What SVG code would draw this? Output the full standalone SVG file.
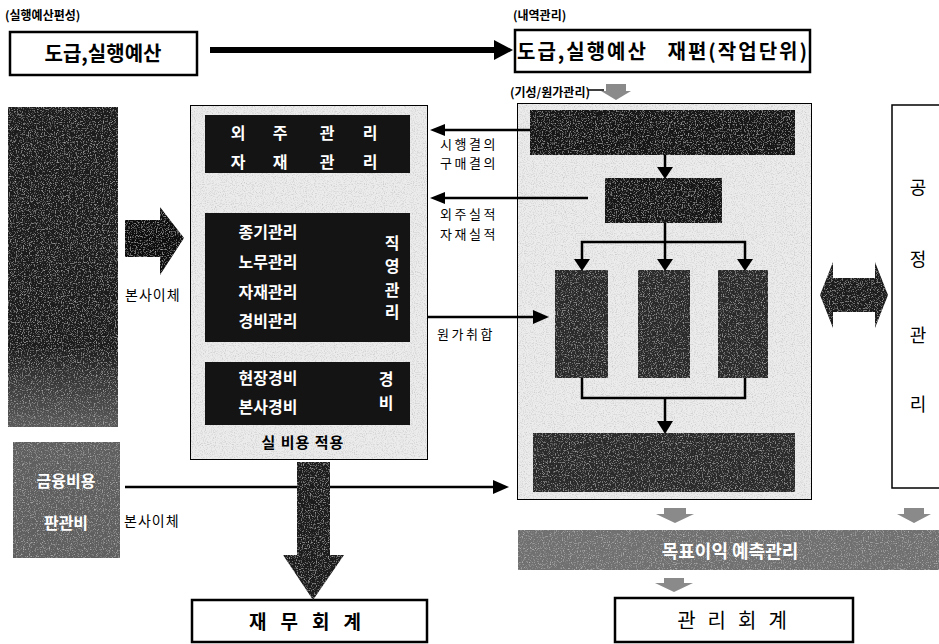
<svg xmlns="http://www.w3.org/2000/svg" width="939" height="644" viewBox="0 0 939 644">
<defs>
<style>
text{font-family:"Noto Sans CJK KR","Noto Sans",sans-serif;}
.lbl{font-size:12px;font-weight:bold;fill:#000;}
.box{fill:#fff;stroke:#000;stroke-width:2.5;}
.panel{fill:#ececec;stroke:#000;stroke-width:2;}
.dark{fill:#141414;}
.mid{fill:#2a2a2a;}
.wt{fill:#fff;font-weight:bold;font-size:16px;}
.small{font-size:13px;fill:#000;letter-spacing:2.5px;}
.line{stroke:#000;stroke-width:2.5;fill:none;}
.gray{fill:#8a8a8a;}
</style>
<filter id="grain" x="0" y="0" width="100%" height="100%">
<feTurbulence type="fractalNoise" baseFrequency="0.85" numOctaves="2" seed="4" result="n"/>
<feColorMatrix in="n" type="matrix" values="0 0 0 0 1  0 0 0 0 1  0 0 0 0 1  0 0 0 1.1 -0.58" result="w"/>
<feComposite in="w" in2="SourceGraphic" operator="in" result="ws"/>
<feMerge><feMergeNode in="SourceGraphic"/><feMergeNode in="ws"/></feMerge>
</filter>
<filter id="dgrain" x="0" y="0" width="100%" height="100%">
<feTurbulence type="fractalNoise" baseFrequency="0.9" numOctaves="2" seed="7" result="n"/>
<feColorMatrix in="n" type="matrix" values="0 0 0 0 0  0 0 0 0 0  0 0 0 0 0  0 0 0 0.7 -0.32" result="w"/>
<feComposite in="w" in2="SourceGraphic" operator="in" result="ws"/>
<feMerge><feMergeNode in="SourceGraphic"/><feMergeNode in="ws"/></feMerge>
</filter>
<linearGradient id="leftg" x1="0" y1="0" x2="0" y2="1">
<stop offset="0" stop-color="#1a1a1a"/>
<stop offset="0.75" stop-color="#1e1e1e"/>
<stop offset="1" stop-color="#5a5a5a"/>
</linearGradient>
</defs>
<rect width="939" height="644" fill="#fff"/>

<g id="top-left">
<text class="lbl" x="5" y="20">(실행예산편성)</text>
<rect class="box" x="10" y="32" width="187" height="43"/>
<text x="103" y="61" text-anchor="middle" font-size="20" font-weight="bold">도급,실행예산</text>
</g>

<g id="top-right">
<text class="lbl" x="513" y="20">(내역관리)</text>
<rect class="box" x="515" y="30" width="295" height="42"/>
<text x="517" y="59" font-size="20" font-weight="bold" xml:space="preserve" textLength="290" lengthAdjust="spacing">도급,실행예산   재편(작업단위)</text>
<text class="lbl" x="510" y="97" font-weight="normal">(기성/원가관리)</text>
</g>

<g id="left-block">
<rect x="8" y="107" width="110" height="320" fill="url(#leftg)" filter="url(#grain)"/>
</g>

<g id="fin-block">
<rect x="13" y="442" width="107" height="116" fill="#5e5e5e" filter="url(#grain)"/>
<text class="wt" x="66" y="487" text-anchor="middle">금융비용</text>
<text class="wt" x="66" y="529" text-anchor="middle">판관비</text>
</g>

<g id="mid-panel">
<rect class="panel" x="190" y="105" width="238" height="355" filter="url(#dgrain)"/>
<rect class="dark" x="205" y="115" width="205" height="58"/>
<g class="wt" text-anchor="middle">
<text x="238" y="139">외</text><text x="280" y="139">주</text><text x="327" y="139">관</text><text x="370" y="139">리</text>
<text x="238" y="168">자</text><text x="280" y="168">재</text><text x="327" y="168">관</text><text x="370" y="168">리</text>
</g>
<rect class="dark" x="205" y="213" width="205" height="129"/>
<g class="wt" text-anchor="middle">
<text x="268" y="238">종기관리</text>
<text x="268" y="268">노무관리</text>
<text x="268" y="298">자재관리</text>
<text x="268" y="327">경비관리</text>
<text x="392" y="249">직</text>
<text x="392" y="272">영</text>
<text x="392" y="296">관</text>
<text x="392" y="318">리</text>
</g>
<rect class="dark" x="205" y="362" width="205" height="63"/>
<g class="wt" text-anchor="middle">
<text x="268" y="384">현장경비</text>
<text x="268" y="413">본사경비</text>
<text x="386" y="385">경</text>
<text x="386" y="409">비</text>
</g>
<text x="303" y="448" text-anchor="middle" font-size="15" font-weight="bold" letter-spacing="1">실 비용 적용</text>
</g>

<g id="right-panel">
<rect class="panel" x="517" y="103" width="295" height="397" filter="url(#dgrain)"/>
<rect class="dark" x="530" y="110" width="265" height="45" filter="url(#grain)"/>
<rect class="dark" x="605" y="178" width="117" height="45" filter="url(#grain)"/>
<rect class="mid" x="555" y="270" width="53" height="108" filter="url(#grain)"/>
<rect class="mid" x="638" y="270" width="52" height="108" filter="url(#grain)"/>
<rect class="mid" x="718" y="270" width="50" height="108" filter="url(#grain)"/>
<rect class="mid" x="533" y="433" width="262" height="59" filter="url(#grain)"/>
</g>

<g id="process-box">
<rect x="892" y="105" width="60" height="383" fill="#fff" stroke="#000" stroke-width="1.5"/>
<g font-size="18" text-anchor="middle">
<text x="918" y="194">공</text>
<text x="918" y="266">정</text>
<text x="918" y="342">관</text>
<text x="918" y="411">리</text>
</g>
</g>

<g id="band">
<rect x="518" y="530" width="425" height="40" fill="#707070" filter="url(#grain)"/>
<text x="730" y="558" text-anchor="middle" font-size="18" font-weight="bold" fill="#fff">목표이익 예측관리</text>
</g>

<g id="fin-acct">
<rect class="box" x="192" y="600" width="235" height="42"/>
<text x="312" y="629" text-anchor="middle" font-size="19" font-weight="bold" letter-spacing="14">재무회계</text>
</g>

<g id="mgmt-acct">
<rect class="box" x="615" y="598" width="238" height="44" stroke-width="2"/>
<text x="738" y="628" text-anchor="middle" font-size="20" letter-spacing="12">관리회계</text>
</g>

<g id="connectors">
<line x1="210" y1="50" x2="497" y2="50" stroke="#000" stroke-width="6"/>
<polygon points="494,40 513,50 494,60" fill="#000"/>
<line x1="588" y1="90" x2="604" y2="90" stroke="#000" stroke-width="1.5"/>
<polygon class="gray" points="606,84 626,84 626,91 631,91 616,100 601,91 606,91"/>

<line class="line" x1="530" y1="130" x2="440" y2="130"/>
<polygon points="445,124 430,130 445,136" fill="#000"/>
<line class="line" x1="588" y1="198" x2="440" y2="198"/>
<polygon points="445,192 430,198 445,204" fill="#000"/>
<text class="small" x="440" y="149">시행결의</text>
<text class="small" x="440" y="168">구매결의</text>
<text class="small" x="440" y="219">외주실적</text>
<text class="small" x="440" y="239">자재실적</text>

<line class="line" x1="428" y1="317" x2="535" y2="317"/>
<polygon points="533,310 549,317 533,324" fill="#000"/>
<text class="small" x="437" y="339">원가취합</text>

<line class="line" x1="665" y1="155" x2="665" y2="170"/>
<polygon points="657,167 673,167 665,179" fill="#000"/>
<line class="line" x1="665" y1="223" x2="665" y2="242"/>
<polyline class="line" points="582,262 582,242 745,242 745,262"/>
<line class="line" x1="665" y1="242" x2="665" y2="262"/>
<polygon points="574,259 590,259 582,271" fill="#000"/>
<polygon points="657,259 673,259 665,271" fill="#000"/>
<polygon points="737,259 753,259 745,271" fill="#000"/>
<polyline class="line" points="582,378 582,398 745,398 745,378"/>
<line class="line" x1="665" y1="398" x2="665" y2="424"/>
<polygon points="657,421 673,421 665,434" fill="#000"/>

<polygon points="125,220 160,220 160,207 184,238 160,275 160,257 125,257" fill="#111" filter="url(#grain)"/>
<text class="small" x="125" y="300" style="letter-spacing:1px;font-size:14px">본사이체</text>

<line class="line" x1="125" y1="487" x2="496" y2="487"/>
<polygon points="493,480 509,487 493,494" fill="#000"/>
<text class="small" x="124" y="526" style="letter-spacing:1px;font-size:14px">본사이체</text>

<polygon points="297,462 330,462 330,555 344,555 313,600 283,555 297,555" fill="#1c1c1c" filter="url(#grain)"/>

<polygon points="820,295 833,262 833,278 875,278 875,262 888,295 875,328 875,312 833,312 833,328" fill="#1c1c1c" filter="url(#grain)"/>

<polygon class="gray" points="664,508 686,508 686,514 694,514 675,523 656,514 664,514"/>
<polygon class="gray" points="904,508 924,508 924,514 931,514 914,523 897,514 904,514"/>
<polygon class="gray" points="664,578 684,578 684,583 693,583 674,592 655,583 664,583"/>
</g>
</svg>
